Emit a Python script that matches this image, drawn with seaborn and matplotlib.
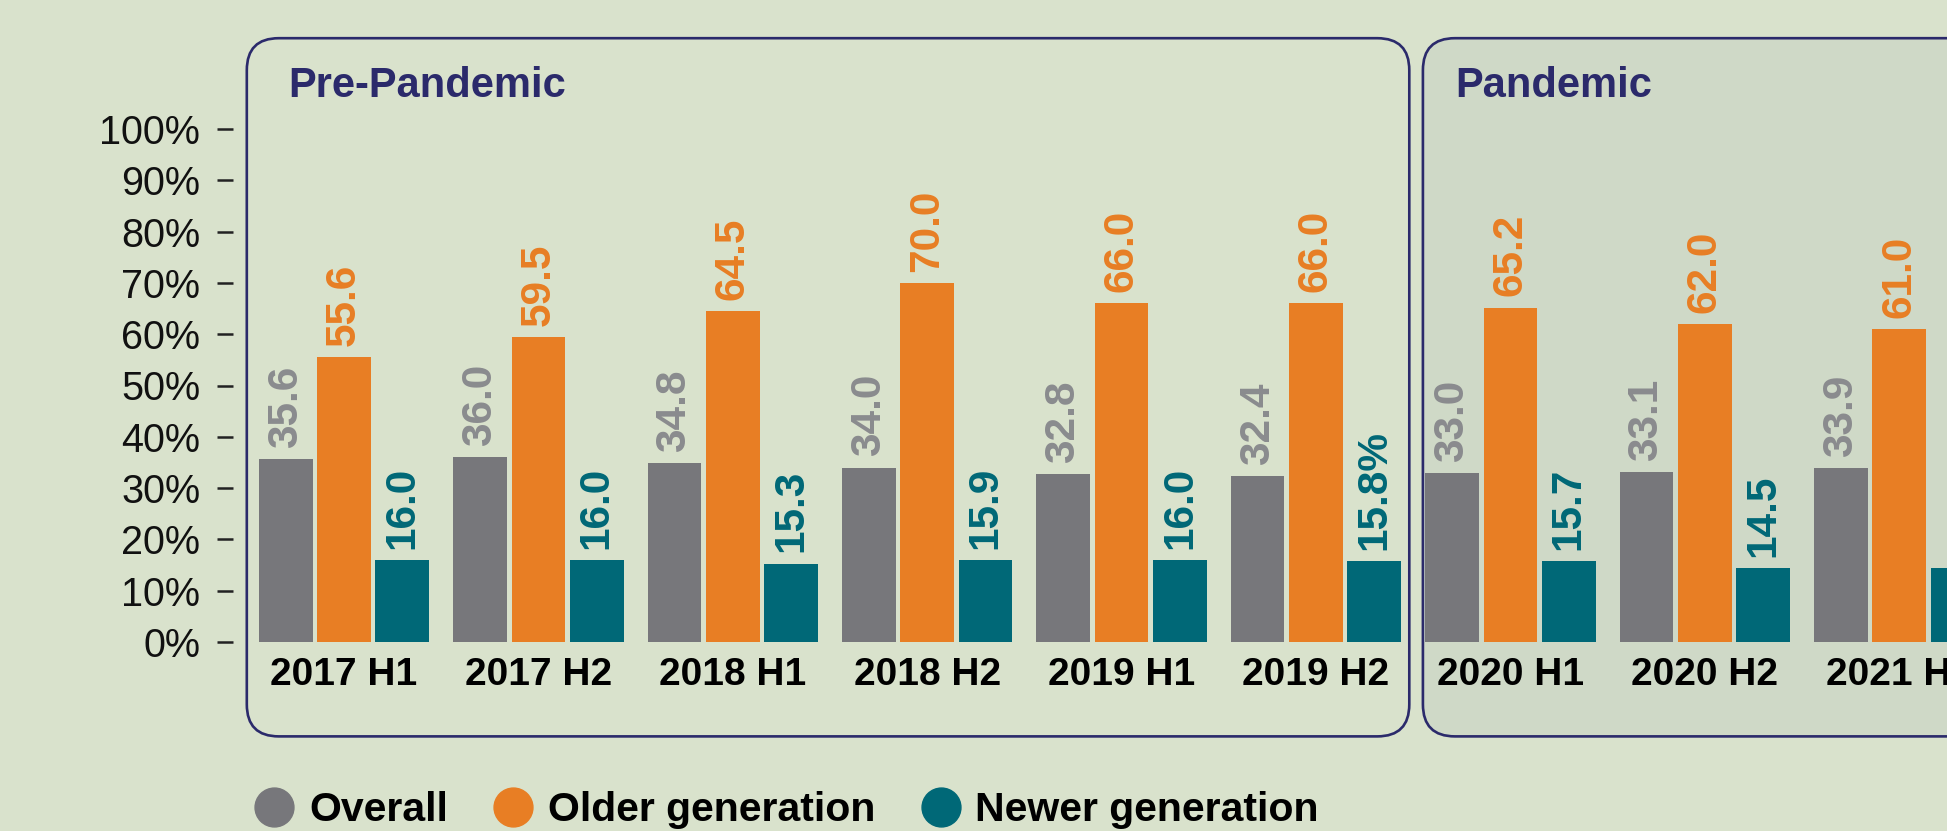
import matplotlib
matplotlib.use("Agg")
import matplotlib.pyplot as plt
from matplotlib.patches import FancyBboxPatch
from matplotlib.lines import Line2D
from matplotlib.transforms import IdentityTransform
import seaborn as sns
import pandas as pd

# ---- data ----
periods = ["2017 H1", "2017 H2", "2018 H1", "2018 H2", "2019 H1", "2019 H2",
           "2020 H1", "2020 H2", "2021 H1"]
overall = [35.6, 36.0, 34.8, 34.0, 32.8, 32.4, 33.0, 33.1, 33.9]
older = [55.6, 59.5, 64.5, 70.0, 66.0, 66.0, 65.2, 62.0, 61.0]
newer = [16.0, 16.0, 15.3, 15.9, 16.0, 15.8, 15.7, 14.5, 14.4]
newer_labels = ["16.0", "16.0", "15.3", "15.9", "16.0", "15.8%", "15.7", "14.5", "14.4"]
series_names = ["Overall", "Older generation", "Newer generation"]
yticks = [0, 10, 20, 30, 40, 50, 60, 70, 80, 90, 100]
ytick_labels = [f"{t}%" for t in yticks]
eras = ["Pre-Pandemic", "Pandemic"]

BG = "#d9e2cc"
PAN_BG = "#cfd9c7"
NAVY = "#2b2a6b"
GRAY = "#77777b"
ORANGE = "#e87e24"
TEAL = "#006877"
GRAY_LBL = "#8a8b8e"

sns.set_theme(style="white")
plt.rcParams["font.family"] = ["Liberation Sans", "DejaVu Sans"]

W, H = 1947, 831
fig = plt.figure(figsize=(W / 100, H / 100), dpi=100, facecolor=BG)
ax = fig.add_axes([233 / W, 189 / H, (W - 233) / W, 513 / H])
ax.set_facecolor("none")

df = pd.DataFrame({
    "period": periods * 3,
    "value": overall + older + newer,
    "series": [series_names[0]] * len(periods) + [series_names[1]] * len(periods)
              + [series_names[2]] * len(periods),
})

sns.barplot(data=df, x="period", y="value", hue="series", order=periods,
            hue_order=series_names, palette=[GRAY, ORANGE, TEAL],
            width=0.9, gap=0.08, saturation=1, legend=False, ax=ax, zorder=2,
            linewidth=0, edgecolor="none")

ax.set_xlim(-0.571, 8.246)
ax.set_ylim(0, 100)
for s in ax.spines.values():
    s.set_visible(False)
ax.set_xlabel("")
ax.set_ylabel("")
ax.set_yticks(yticks)
ax.set_yticklabels(ytick_labels, fontsize=28.5, color="#111111")
ax.tick_params(axis="y", direction="out", length=11.5, width=1.8, color="#222222", pad=12, left=True)
ax.tick_params(axis="x", length=0, pad=11)
for lbl in ax.get_xticklabels():
    lbl.set_fontsize(28)
    lbl.set_fontweight("bold")
    lbl.set_color("#000000")

label_sets = [[f"{v:.1f}" for v in overall], [f"{v:.1f}" for v in older], newer_labels]
label_colors = [GRAY_LBL, ORANGE, TEAL]
for cont, labs, col in zip(ax.containers, label_sets, label_colors):
    ax.bar_label(cont, labels=labs, rotation=90, padding=8, color=col,
                 fontsize=30.5, fontweight="bold", clip_on=False)

# ---- era boxes (drawn in display pixels, anchored on data positions) ----
fig.canvas.draw()
tr = ax.transData
x_edges = [(-0.5, 5.48), (5.55, 9.5)]
title_offsets = [41, 32]
y_top = tr.transform((0, 117.7))[1]
y_bot = tr.transform((0, -18.4))[1]
fills = [BG, PAN_BG]
for (x0, x1), name, fc, off in zip(x_edges, eras, fills, title_offsets):
    px0 = tr.transform((x0, 0))[0]
    px1 = tr.transform((x1, 0))[0]
    box = FancyBboxPatch((px0, y_bot), px1 - px0, y_top - y_bot,
                         boxstyle="round,pad=0,rounding_size=32",
                         transform=IdentityTransform(), facecolor=fc,
                         edgecolor=NAVY, linewidth=1.9, zorder=-5)
    fig.patches.append(box)
    box.set_figure(fig)
    fig.text((px0 + off) / W, (y_top - 48) / H, name, fontsize=30, fontweight="bold",
             color=NAVY, ha="left", va="center")

handles = [Line2D([], [], linestyle="none", marker="o", markersize=28,
                  markerfacecolor=c, markeredgecolor=c) for c in [GRAY, ORANGE, TEAL]]
leg = fig.legend(handles, series_names, loc="center left",
                 bbox_to_anchor=(254 / W, 21 / H), ncol=3, frameon=False,
                 handlelength=1.0, handletextpad=0.34, columnspacing=1.1,
                 borderpad=0, borderaxespad=0,
                 prop={"size": 29.5, "weight": "bold"})
for t in leg.get_texts():
    t.set_color("#000000")

fig.savefig("out.png", dpi=100, facecolor=BG)
